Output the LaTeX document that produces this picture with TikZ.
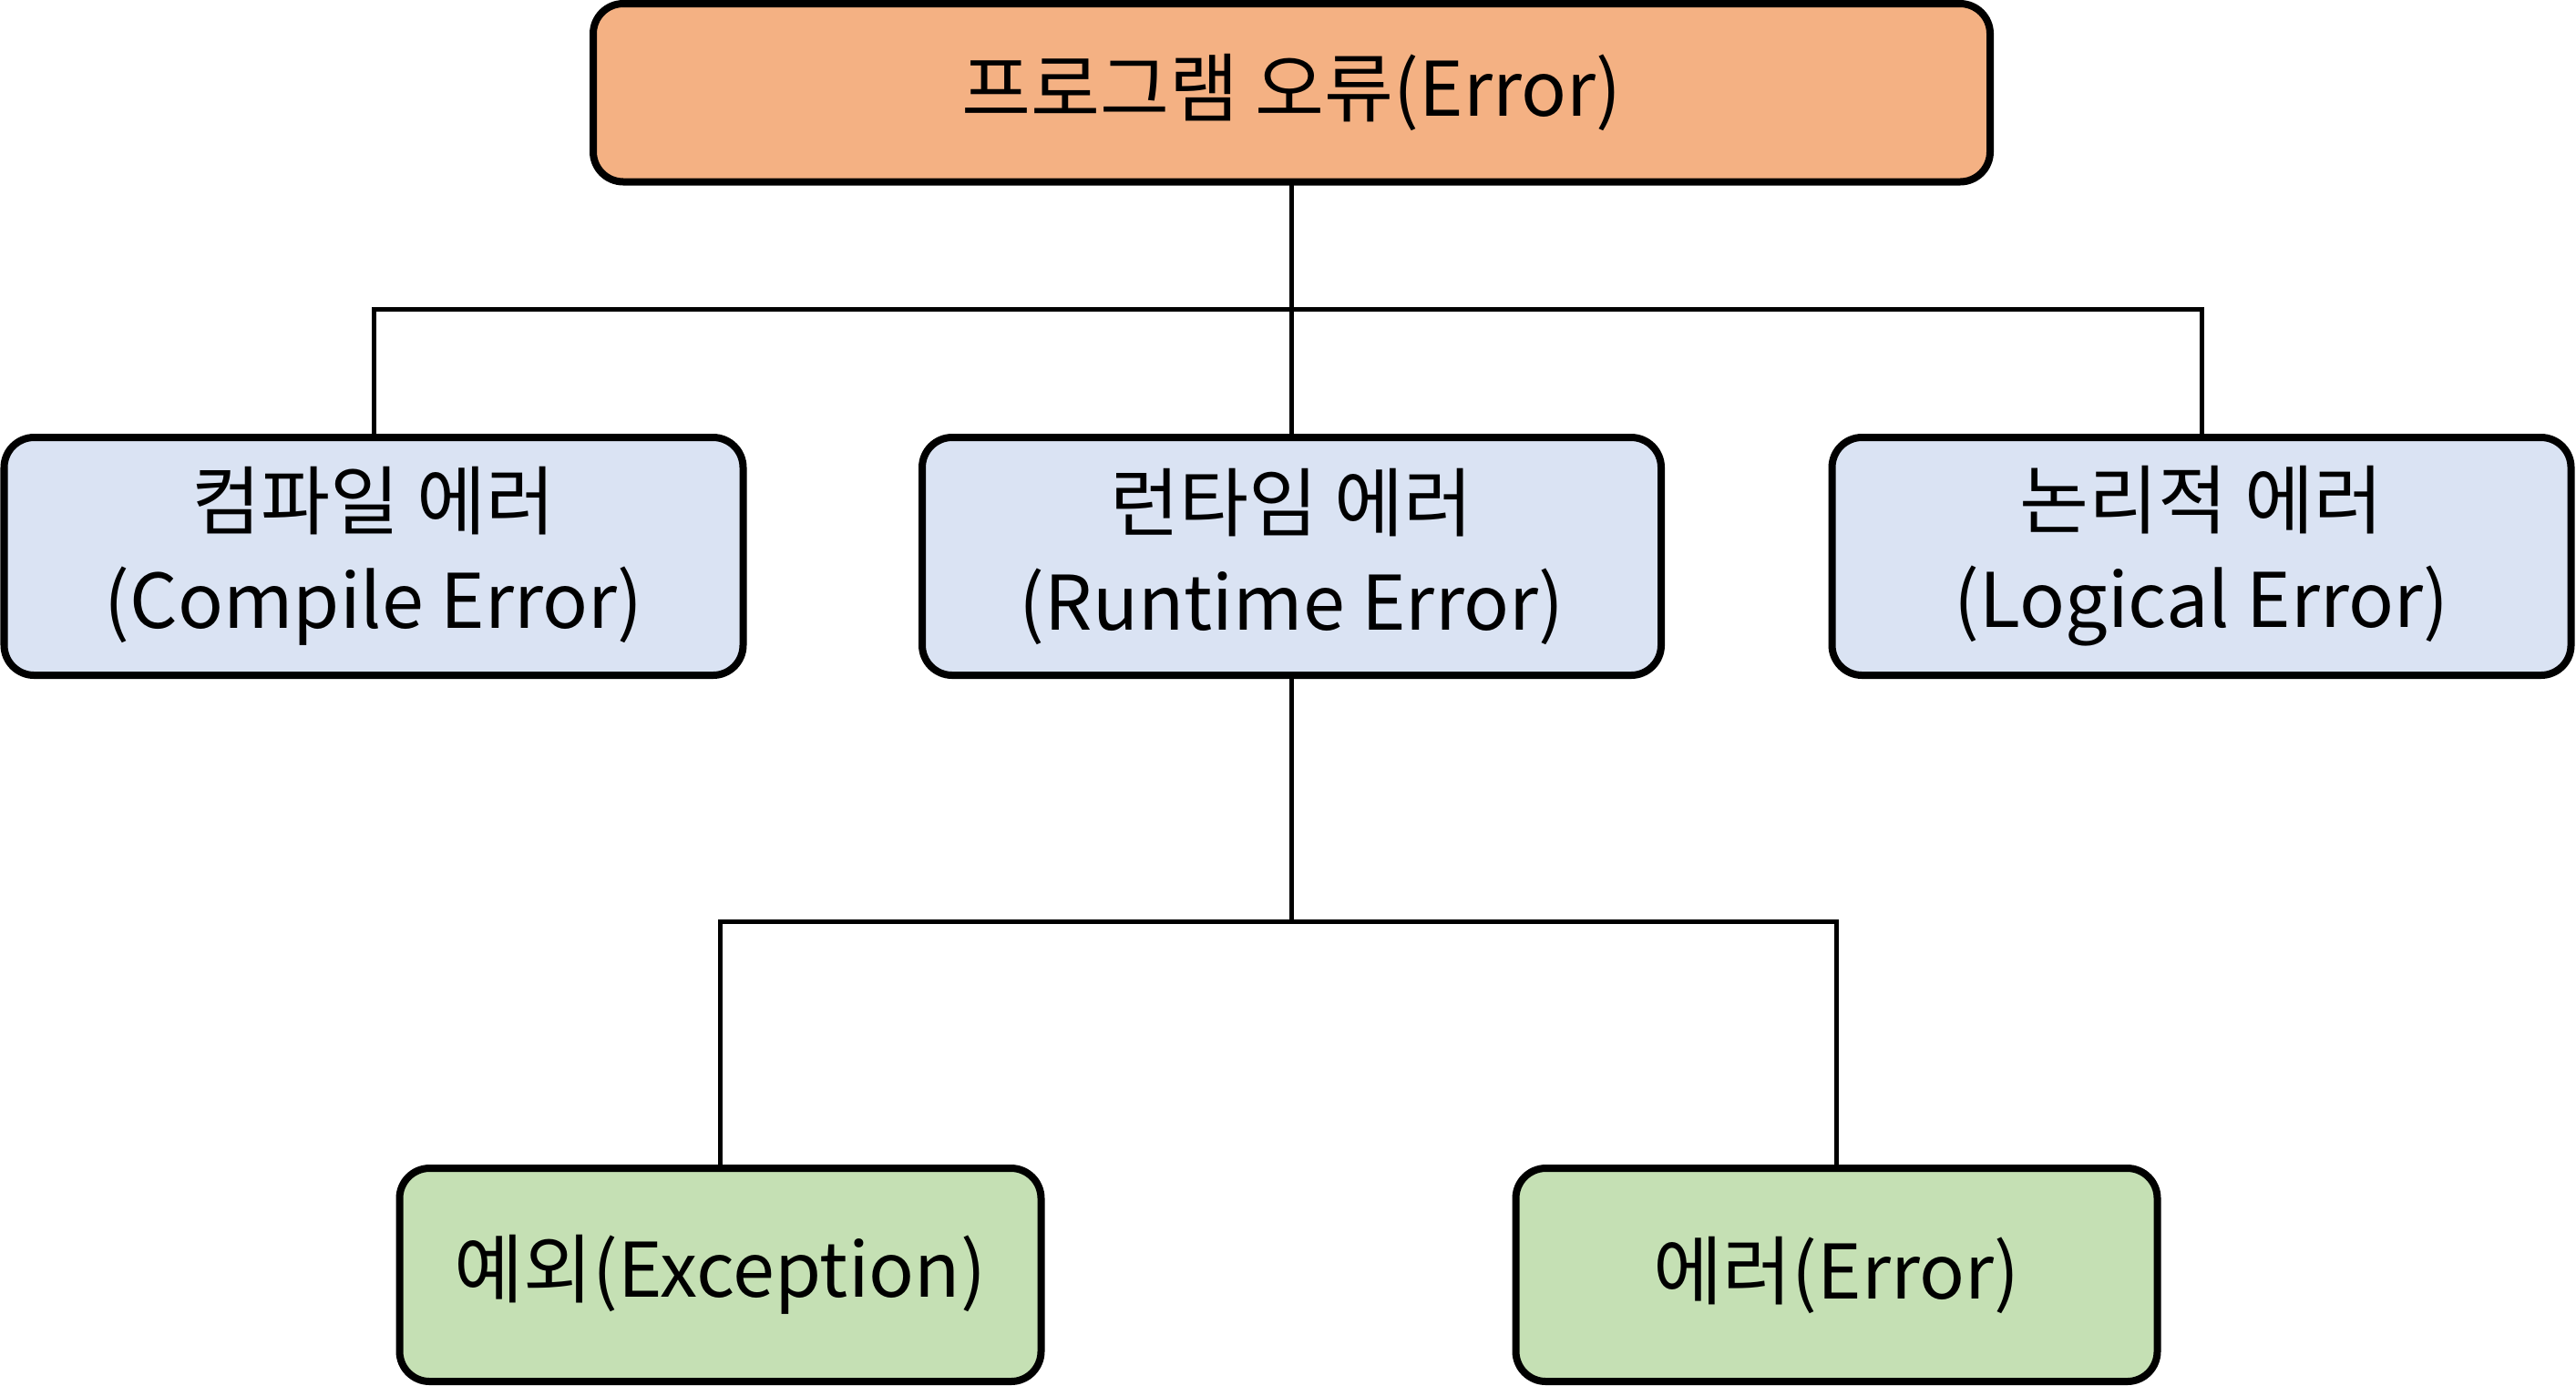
\documentclass[tikz,border=0pt]{standalone}
\usepackage{fontspec}
\setmainfont{Noto Sans CJK KR}
\usetikzlibrary{calc,positioning,shapes}
\definecolor{errorange}{HTML}{F4B183}
\definecolor{kindblue}{HTML}{DAE3F3}
\definecolor{leafgreen}{HTML}{C5E0B4}
\tikzset{
	basebox/.style={
		rectangle,
		rounded corners=0.33cm,
		draw=black, line width=0.08cm,
		inner sep=0pt, outer sep=0pt,
		align=center,
		font=\fontsize{23.5}{31}\selectfont},
	errbox/.style={
		basebox,
		fill=errorange,
		minimum width=15.33cm,
		minimum height=1.955cm},
	kindbox/.style={
		basebox,
		fill=kindblue,
		minimum width=8.11cm,
		minimum height=2.61cm},
	leafbox/.style={
		basebox,
		fill=leafgreen,
		minimum width=7.04cm,
		minimum height=2.34cm},
	line/.style={draw, line width=0.05cm},
}

\begin{document}
\begin{tikzpicture}
	\useasboundingbox (0,0) rectangle (28.27,-15.20);
	\node[errbox] (err) at (14.175,-1.0175) {프로그램 오류(Error)};
	\node[kindbox, below=2.805cm of err] (rt) {런타임 에러\\(Runtime Error)};
	\node[kindbox, left=1.965cm of rt] (ce) {컴파일 에러\\(Compile Error)};
	\node[kindbox, right=1.875cm of rt] (le) {논리적 에러\\(Logical Error)};
	\node[leafbox] (ex) at (7.905,-13.99) {예외(Exception)};
	\node[leafbox] (er) at (20.155,-13.99) {에러(Error)};
	% buses
	\coordinate (b1) at ($(err.south)!0.5!(rt.north)$);
	\coordinate (b2) at ($(rt.south)!0.5!(rt.south |- ex.north)$);
	\path[line] (err) -- (rt);
	\path[line] (ce.north) |- (b1) -| (le.north);
	\path[line] (rt) -- (b2);
	\path[line] (ex.north) |- (b2) -| (er.north);
\end{tikzpicture}
\end{document}
